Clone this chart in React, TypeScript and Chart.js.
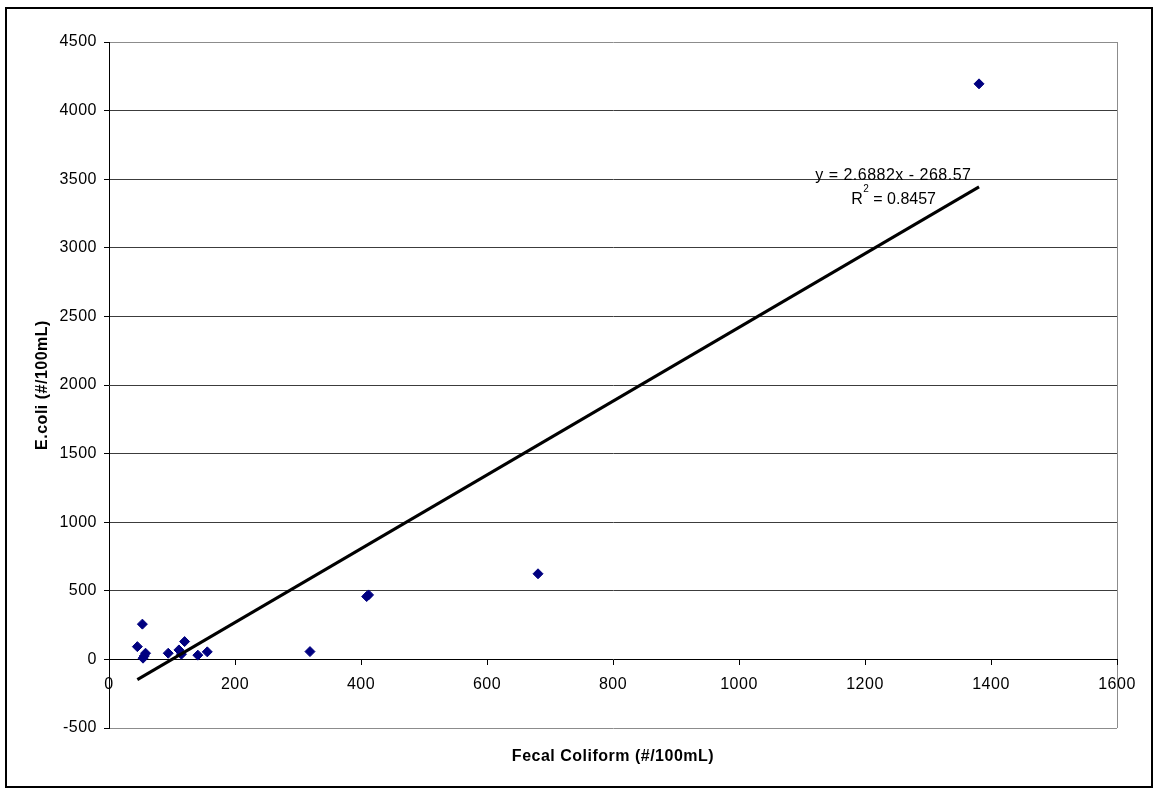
import React, { useEffect, useRef } from 'react';
import { Chart, registerables } from 'chart.js';

Chart.register(...registerables);

// ---- Data ----
const fecalColiform = [45, 53, 54, 56, 58, 94, 111, 115, 120, 141, 156, 319, 409, 412, 681, 1381];
const eColi = [93, 257, 9, 25, 45, 45, 69, 38, 130, 31, 55, 57, 458, 470, 624, 4195];

const xTickValues = [0, 200, 400, 600, 800, 1000, 1200, 1400, 1600];
const yTickValues = [-500, 0, 500, 1000, 1500, 2000, 2500, 3000, 3500, 4000, 4500];

// Linear trendline as printed on the chart
const trendSlope = 2.6882;
const trendIntercept = -268.57;
const trendR2 = 0.8457;
const trendXRange = [45, 1381];

const xAxisTitle = 'Fecal Coliform (#/100mL)';
const yAxisTitle = 'E.coli (#/100mL)';

const FONT = '"Liberation Sans", Arial, sans-serif';
const SPACING = '0.5px';

export default function App() {
  const canvasRef = useRef<HTMLCanvasElement | null>(null);

  useEffect(() => {
    const canvas = canvasRef.current;
    if (!canvas) return;

    const points = fecalColiform.map((x, i) => ({ x, y: eColi[i] }));
    const trendPoints = trendXRange.map((x) => ({ x, y: trendSlope * x + trendIntercept }));

    const decorPlugin = {
      id: 'decor',
      beforeDraw(chart: any) {
        try {
          (chart.ctx as any).letterSpacing = SPACING;
        } catch (e) {}
      },
      afterDraw(chart: any) {
        const ctx = chart.ctx as CanvasRenderingContext2D;
        const area = chart.chartArea;
        const xs = chart.scales.x;
        const ys = chart.scales.y;
        ctx.save();
        try {
          (ctx as any).letterSpacing = SPACING;
        } catch (e) {}
        // outer frame
        ctx.strokeStyle = '#000';
        ctx.lineWidth = 2;
        ctx.strokeRect(6, 8, 1146, 779);

        // axis titles
        ctx.fillStyle = '#000';
        ctx.font = `bold 16px ${FONT}`;
        ctx.textAlign = 'center';
        ctx.textBaseline = 'alphabetic';
        ctx.fillText(xAxisTitle, (area.left + area.right) / 2, 761);

        ctx.save();
        ctx.translate(47, (area.top + area.bottom) / 2);
        ctx.rotate(-Math.PI / 2);
        ctx.fillText(yAxisTitle, 0, 0);
        ctx.restore();

        // trendline equation
        const cx = xs.getPixelForValue(1245);
        ctx.font = `16px ${FONT}`;
        ctx.textAlign = 'center';
        const eq = `y = ${trendSlope}x - ${Math.abs(trendIntercept)}`;
        ctx.fillText(eq, cx, ys.getPixelForValue(3496));

        try {
          (ctx as any).letterSpacing = '0px';
        } catch (e) {}
        const rText = 'R';
        const supText = '2';
        const restText = ` = ${trendR2}`;
        ctx.font = `16px ${FONT}`;
        const wR = ctx.measureText(rText).width;
        const wRest = ctx.measureText(restText).width;
        ctx.font = `10px ${FONT}`;
        const wSup = ctx.measureText(supText).width;
        const total = wR + wSup + wRest;
        let px = cx - total / 2;
        const base = ys.getPixelForValue(3318);
        ctx.textAlign = 'left';
        ctx.font = `16px ${FONT}`;
        ctx.fillText(rText, px, base);
        px += wR + 0.5;
        ctx.font = `10px ${FONT}`;
        ctx.fillText(supText, px, base - 12);
        px += wSup;
        ctx.font = `16px ${FONT}`;
        ctx.fillText(restText, px, base);
        ctx.restore();
      },
    };

    const chart = new Chart(canvas, {
      type: 'scatter',
      data: {
        datasets: [
          {
            type: 'line',
            label: 'Trend',
            data: trendPoints,
            borderColor: '#000',
            borderWidth: 3,
            pointRadius: 0,
            fill: false,
            order: 0,
          } as any,
          {
            label: 'E.coli',
            data: points,
            pointStyle: 'rectRot',
            pointRadius: 5,
            pointBorderWidth: 1,
            backgroundColor: '#000080',
            borderColor: '#000080',
            order: 1,
          },
        ],
      },
      options: {
        responsive: false,
        animation: false,
        layout: { padding: { left: 0, top: 42, right: 37, bottom: 61 } },
        plugins: {
          legend: { display: false },
          tooltip: { enabled: false },
          title: { display: false },
        },
        scales: {
          x: {
            type: 'linear',
            position: { y: 0 } as any,
            min: xTickValues[0],
            max: xTickValues[xTickValues.length - 1],
            afterBuildTicks: (s: any) => {
              s.ticks = xTickValues.map((v) => ({ value: v }));
            },
            afterFit: (s: any) => {
              s.height = 20;
            },
            ticks: {
              color: '#000',
              font: { family: FONT, size: 16 },
              padding: 11,
              maxRotation: 0,
              autoSkip: false,
              callback: (v: any) => String(v),
            },
            grid: {
              color: (c: any) => (c.tick && c.tick.value === 1600 ? '#8c8c8c' : 'rgba(0,0,0,0)'),
              tickColor: '#000',
              tickLength: 5,
              lineWidth: 1,
            },
            border: { display: true, color: '#000', width: 1 },
            title: { display: false },
          },
          y: {
            type: 'linear',
            min: yTickValues[0],
            max: yTickValues[yTickValues.length - 1],
            afterBuildTicks: (s: any) => {
              s.ticks = yTickValues.map((v) => ({ value: v }));
            },
            afterFit: (s: any) => {
              s.width = 109;
            },
            ticks: {
              color: '#000',
              font: { family: FONT, size: 16 },
              padding: 7,
              autoSkip: false,
              callback: (v: any) => String(v),
            },
            grid: {
              color: (c: any) => {
                const v = c.tick && c.tick.value;
                if (v === 0) return 'rgba(0,0,0,0)';
                if (v === 4500 || v === -500) return '#8c8c8c';
                return '#3c3c3c';
              },
              tickColor: '#000',
              tickLength: 5,
              lineWidth: 1,
            },
            border: { display: true, color: '#000', width: 1 },
            title: { display: false },
          },
        },
      },
      plugins: [decorPlugin],
    });

    return () => {
      chart.destroy();
    };
  }, []);

  return (
    <div style={{ position: 'fixed', left: 0, top: 0, width: 1154, height: 789, background: '#fff' }}>
      <canvas ref={canvasRef} width={1154} height={789} style={{ display: 'block' }} />
    </div>
  );
}
